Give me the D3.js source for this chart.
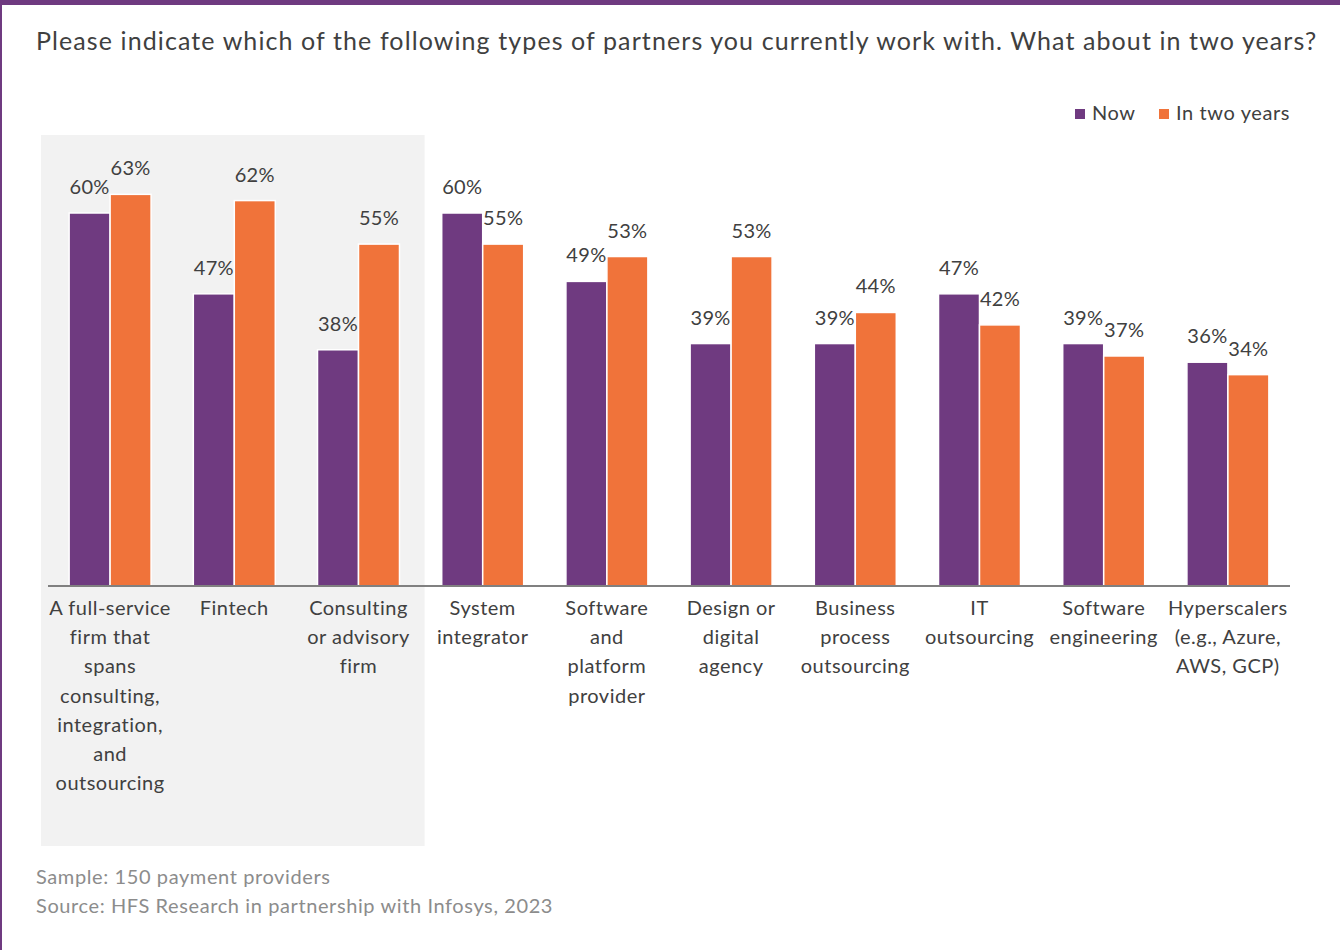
<!DOCTYPE html>
<html>
<head>
<meta charset="utf-8">
<script src="https://cdn.jsdelivr.net/npm/d3@7"></script>
<style>
  body { margin: 0; background: #fff; }
  svg { display: block; font-family: Lato, "Open Sans", sans-serif; }
</style>
</head>
<body>
<div id="chart"></div>
<script>
const categories = [
    ["A full-service", "firm that", "spans", "consulting,", "integration,", "and", "outsourcing"],
    ["Fintech"],
    ["Consulting", "or advisory", "firm"],
    ["System", "integrator"],
    ["Software", "and", "platform", "provider"],
    ["Design or", "digital", "agency"],
    ["Business", "process", "outsourcing"],
    ["IT", "outsourcing"],
    ["Software", "engineering"],
    ["Hyperscalers", "(e.g., Azure,", "AWS, GCP)"]
];
const nowValues = [60, 47, 38, 60, 49, 39, 39, 47, 39, 36];
const twoYearValues = [63, 62, 55, 55, 53, 53, 44, 42, 37, 34];
const seriesNames = ["Now", "In two years"];
const seriesColors = ["#6f3a80", "#f0733a"];

const title = "Please indicate which of the following types of partners you currently work with. What about in two years?";
const notes = ["Sample: 150 payment providers", "Source: HFS Research in partnership with Infosys, 2023"];

const width = 1340, height = 950;
const baseline = 586;
const axisLeft = 48, axisRight = 1290;

let svg = d3.select("#chart").append("svg")
    .attr("width", width)
    .attr("height", height);

// frame: purple top bar and thin left rule
svg.append("rect").attr("x", 0).attr("y", 0).attr("width", width).attr("height", 5).attr("fill", "#6f3a80");
svg.append("rect").attr("x", 0).attr("y", 0).attr("width", 2).attr("height", height).attr("fill", "#6f3a80");

svg.append("text")
    .attr("x", 36).attr("y", 50)
    .attr("font-size", 25)
    .attr("letter-spacing", 1.1)
    .attr("fill", "#404040")
    .text(title);

let idx = d3.range(categories.length);

let x = d3.scaleBand()
    .domain(idx)
    .range([axisLeft, axisRight])
    .paddingInner(0.34)
    .paddingOuter(0.17);

let x1 = d3.scaleBand()
    .domain([0, 1])
    .range([0, x.bandwidth()])
    .padding(0);

let y = d3.scaleLinear()
    .domain([0, 60])
    .range([baseline, 213]);

// highlight panel behind the first three categories
let panelLeft = x(0) - x.step() * x.paddingOuter() - 7;
let panelRight = x(2) + x.bandwidth() + (x.step() - x.bandwidth()) / 2 + 4;
svg.append("rect")
    .attr("x", panelLeft)
    .attr("y", 135)
    .attr("width", panelRight - panelLeft)
    .attr("height", 711)
    .attr("fill", "#f2f2f2");

let rows = idx.map(i => [nowValues[i], twoYearValues[i]]);

let groups = svg.selectAll(".group")
    .data(rows)
    .join("g")
    .attr("class", "group")
    .attr("transform", (d, i) => "translate(" + x(i) + ",0)");

groups.selectAll("rect")
    .data(d => d.map((v, s) => ({ v: v, s: s })))
    .join("rect")
    .attr("x", d => x1(d.s))
    .attr("y", d => y(d.v))
    .attr("width", x1.bandwidth())
    .attr("height", d => baseline - y(d.v))
    .attr("fill", d => seriesColors[d.s])
    .attr("stroke", "#fff")
    .attr("stroke-width", 1.5);

groups.selectAll(".val")
    .data(d => d.map((v, s) => ({ v: v, s: s })))
    .join("text")
    .attr("class", "val")
    .attr("x", d => x1(d.s) + x1.bandwidth() / 2)
    .attr("y", d => y(d.v) - 19)
    .attr("text-anchor", "middle")
    .attr("font-size", 20)
    .attr("letter-spacing", 0.3)
    .attr("fill", "#404040")
    .text(d => d.v + "%");

// axis line
svg.append("line")
    .attr("x1", axisLeft).attr("x2", axisRight)
    .attr("y1", baseline).attr("y2", baseline)
    .attr("stroke", "#808080")
    .attr("stroke-width", 2);

// category labels
let labels = svg.selectAll(".cat")
    .data(categories)
    .join("text")
    .attr("class", "cat")
    .attr("x", (d, i) => x(i) + x.bandwidth() / 2)
    .attr("y", 615)
    .attr("text-anchor", "middle")
    .attr("font-size", 20)
    .attr("letter-spacing", 0.5)
    .attr("fill", "#404040");

labels.selectAll("tspan")
    .data(d => d)
    .join("tspan")
    .attr("x", function () { return d3.select(this.parentNode).attr("x"); })
    .attr("dy", (d, i) => i === 0 ? 0 : 29.2)
    .text(d => d);

// legend
let legend = svg.append("g");
let legendX = [1075, 1159];
seriesNames.forEach((name, s) => {
    legend.append("rect")
        .attr("x", legendX[s]).attr("y", 109)
        .attr("width", 10).attr("height", 10)
        .attr("fill", seriesColors[s]);
    legend.append("text")
        .attr("x", legendX[s] + 17).attr("y", 120)
        .attr("font-size", 20)
        .attr("letter-spacing", 0.6)
        .attr("fill", "#404040")
        .text(name);
});

// footnotes
svg.selectAll(".note")
    .data(notes)
    .join("text")
    .attr("class", "note")
    .attr("x", 36)
    .attr("y", (d, i) => 884 + i * 29)
    .attr("font-size", 20)
    .attr("letter-spacing", 0.6)
    .attr("fill", "#8c8c8c")
    .text(d => d);
</script>
</body>
</html>
